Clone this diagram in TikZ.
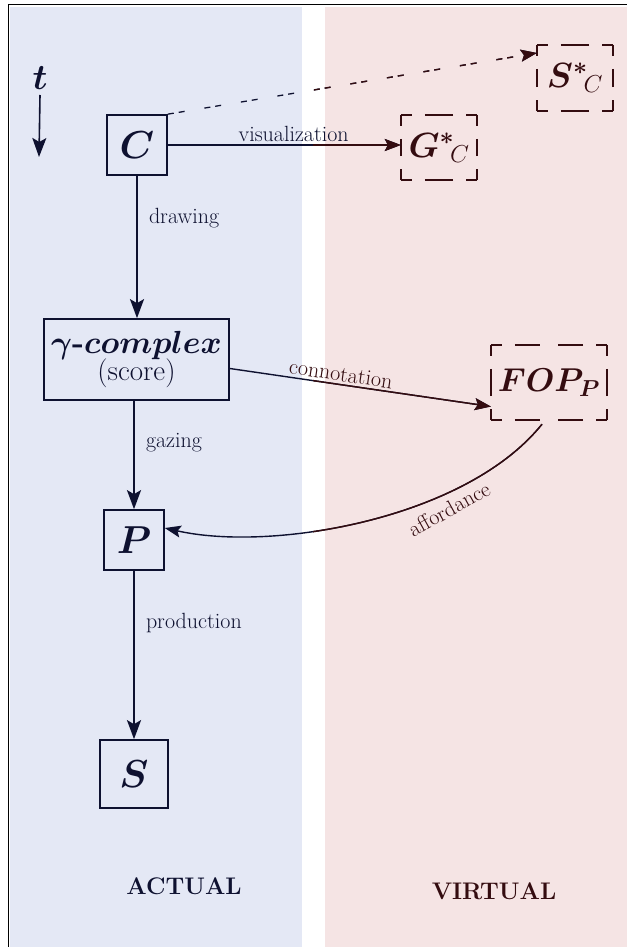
\RequirePackage{fix-cm}
\documentclass[tikz,border=0pt]{standalone}
\usepackage{amsmath,bm}
\usetikzlibrary{arrows.meta,calc}

\definecolor{actualbg}{RGB}{228,232,245}
\definecolor{virtualbg}{RGB}{245,228,228}
\definecolor{actualink}{RGB}{14,17,48}
\definecolor{virtualink}{RGB}{52,12,16}

\tikzset{
  box/.style={draw=actualink, line width=1.7pt, text=actualink, inner sep=0pt},
  vbox/.style={text=virtualink, inner sep=0pt},
  vdash/.style={draw=virtualink, line width=1.6pt, dash pattern=on 11pt off 13pt on 25pt off 13pt},
  link/.style={line width=2pt, -{Stealth[length=19pt,width=14pt,inset=4pt]}},
  thinlink/.style={line width=1.4pt, -{Stealth[length=16pt,width=12pt,inset=3pt]}},
  lbl/.style={font=\fontsize{22}{26}\selectfont, inner sep=3pt},
  sym/.style={font=\fontsize{39}{42}\selectfont},
  vsym/.style={font=\fontsize{35}{38}\selectfont},
  side/.style={font=\fontsize{24}{28}\selectfont\bfseries},
}

% dashed frame whose dashes start at every corner
\newcommand\dashframe[1]{%
  \foreach \a/\b in {north west/north, north east/north, south west/south, south east/south,
                     north west/west, south west/west, north east/east, south east/east}
    {\draw[vdash] (#1.\a) -- (#1.\b);}}

% connector lines that run from the actual side into the virtual side
\newcommand\crosslinks[1]{%
  \draw[thinlink, draw=#1] (c.east) -- (c.east -| gs.west);
  \draw[line width=1.3pt, draw=#1, dash pattern=on 6pt off 5pt on 6pt off 20pt,
        -{Stealth[length=16pt,width=12pt,inset=3pt]}]
    (c.north east) -- ([yshift=25pt]ss.west);
  \draw[thinlink, draw=#1] ([yshift=-9pt]g.east) -- ([yshift=-24pt]f.west);
  \draw[thinlink, draw=#1] ([xshift=-7pt,yshift=-4pt]f.south)
    .. controls (465,520) and (270,552) .. ([yshift=12pt]p.east);
}

\begin{document}
\begin{tikzpicture}[x=1pt, y=-1pt]
  \useasboundingbox (0,0) rectangle (627,947);

  % backgrounds and frame
  \fill[actualbg] (10,7) rectangle (302,947);
  \fill[virtualbg] (325,7) rectangle (627,947);
  \draw[line width=1.5pt] (8.5,947) -- (8.5,4.5) -- (627,4.5);

  % time axis
  \node[font=\fontsize{36}{38}\selectfont, text=actualink, inner sep=2pt] (t) at (40,78) {$\bm{t}$};
  \coordinate (tend) at (39,157);
  \draw[link, line width=1.6pt, draw=actualink] (t.south |- 0,95) -- (tend);

  % actual side
  \node[box, sym, minimum width=60pt, minimum height=60pt] (c) at (137,145) {$\bm{C}$};
  \node[box, minimum width=185pt, minimum height=81pt, align=center] (g) at (136.5,359.5)
    {{\fontsize{32}{30}\selectfont $\bm{\gamma}$\textbf{-}$\bm{complex}$}\\[-1pt]
     {\fontsize{29}{30}\selectfont (score)}};
  \node[box, sym, minimum width=60pt, minimum height=60pt] (p) at (134,540) {$\bm{P}$};
  \node[box, sym, minimum width=68pt, minimum height=68pt] (s) at (134,774) {$\bm{S}$};

  % virtual side
  \node[vbox, vsym, minimum width=76pt, minimum height=65pt] (gs) at (439,147.5)
    {${\bm{G}^{\bm{*}}}_{\!C}$};
  \node[vbox, vsym, minimum width=76pt, minimum height=66pt] (ss) at (575,78)
    {${\bm{S}^{\bm{*}}}_{\!C}$};
  \node[vbox, font=\fontsize{33}{36}\selectfont, minimum width=116pt, minimum height=75pt]
    (f) at (549,382.5) {$\bm{{FOP}_{\!P}}$};
  \dashframe{gs}
  \dashframe{ss}
  \dashframe{f}

  % connectors inside the actual side
  \draw[link, draw=actualink] (c.south) -- (c.south |- g.north)
    node[lbl, text=actualink, right=8pt, pos=0.3] (ldraw) {drawing};
  \draw[link, draw=actualink] (g.south -| p.north) -- (p.north)
    node[lbl, text=actualink, right=8pt, pos=0.39] (lgaze) {gazing};
  \draw[link, draw=actualink] (p.south) -- (p.south |- s.north)
    node[lbl, text=actualink, right=8pt, pos=0.31] (lprod) {production};

  % connectors crossing into the virtual side, recoloured past the gap
  \crosslinks{actualink}
  \begin{scope}
    \clip (313,0) rectangle (627,947);
    \crosslinks{virtualink}
  \end{scope}

  % their labels
  \path (c.east) -- (c.east -| gs.west)
    node[lbl, text=actualink, above, pos=0.54] (lvis) {visualization};
  \path ([yshift=-9pt]g.east) -- ([yshift=-24pt]f.west)
    node[lbl, text=virtualink, sloped, above, pos=0.42] (lcon) {connotation};
  \node[lbl, text=virtualink, rotate=29] (laff) at (449,509) {affordance};

  % side captions
  \node[side, text=actualink] (actual) at (184,886) {ACTUAL};
  \node[side, text=virtualink] (virtual) at (494,891) {VIRTUAL};
\end{tikzpicture}
\end{document}
